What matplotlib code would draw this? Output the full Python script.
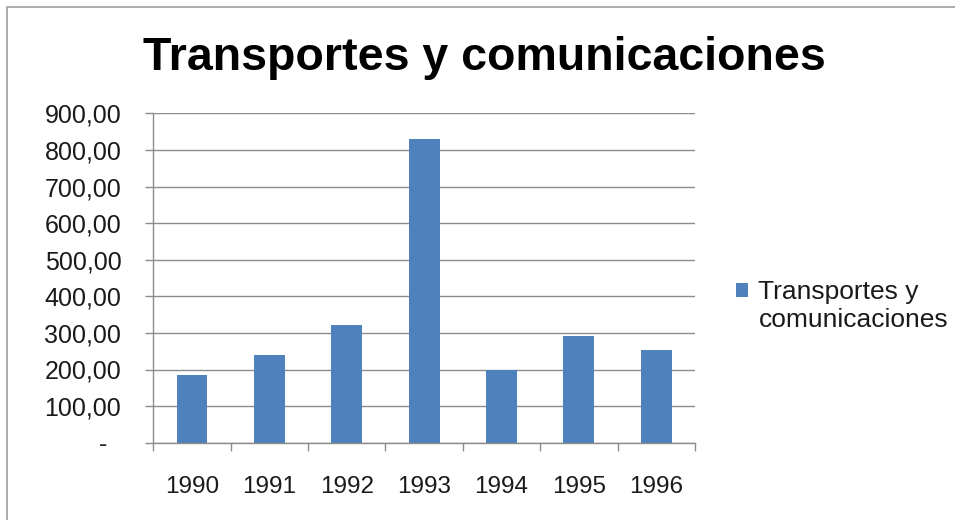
import matplotlib
matplotlib.use("Agg")
import matplotlib.pyplot as plt
from matplotlib.patches import Rectangle
from matplotlib.ticker import FuncFormatter, FixedLocator
import numpy as np

plt.rcParams['font.family'] = ['Liberation Sans', 'DejaVu Sans']

years = ["1990", "1991", "1992", "1993", "1994", "1995", "1996"]
values = [184, 240, 321, 829, 200, 291, 252]
series_label = "Transportes y\ncomunicaciones"
title = "Transportes y comunicaciones"
y_ticks = [0, 100, 200, 300, 400, 500, 600, 700, 800, 900]

fig = plt.figure(figsize=(9.55, 5.2), dpi=100)
fig.patch.set_facecolor("white")

# chart border
fig.patches.append(Rectangle((7 / 955, -0.1), 1.2, 1.1 - 7 / 520,
                             transform=fig.transFigure, fill=False,
                             edgecolor="#a6a6a6", linewidth=1.3))

ax = fig.add_axes([153.3 / 955, 1 - 442.7 / 520, (695 - 153.3) / 955, (442.7 - 113.3) / 520])

x = np.arange(len(years))
ax.bar(x, values, width=0.4, color="#4f81bd", zorder=3, label=series_label)

ax.set_xlim(-0.5, len(years) - 0.5)
ax.set_ylim(0, 900)

ax.yaxis.set_major_locator(FixedLocator(y_ticks))


def fmt(v, pos):
    if v == 0:
        return "-  "
    s = f"{v:,.2f}"
    return s.replace(",", "X").replace(".", ",").replace("X", ".")


ax.yaxis.set_major_formatter(FuncFormatter(fmt))
ax.grid(axis="y", color="#8c8c8c", linewidth=1.0, zorder=0)

ax.set_xticks(x)
ax.set_xticklabels(years)
ax.set_xticks(np.arange(-0.5, len(years)), minor=True)
ax.tick_params(axis="x", which="major", length=0, pad=24, labelsize=17.5, labelcolor="#1a1a1a")
ax.tick_params(axis="x", which="minor", length=6, width=1.0, color="#8c8c8c", direction="out")
ax.tick_params(axis="y", which="major", length=6, width=1.0, color="#8c8c8c", direction="out",
               pad=17, labelsize=18, labelcolor="#1a1a1a")

for side in ["top", "right"]:
    ax.spines[side].set_visible(False)
for side in ["left", "bottom"]:
    ax.spines[side].set_color("#8c8c8c")
    ax.spines[side].set_linewidth(1.0)
ax.spines["left"].set_zorder(4)
ax.spines["bottom"].set_zorder(4)

fig.text(484 / 955, 1 - 70 / 520, title, ha="center", va="baseline",
         fontsize=33.5, fontweight="bold", color="black")

leg_fs = 19
leg = ax.legend(loc="upper left", bbox_to_anchor=(736 / 955, 1 - 280 / 520),
                bbox_transform=fig.transFigure, frameon=False, fontsize=leg_fs,
                handlelength=0.45, handleheight=0.45, handletextpad=0.4,
                borderpad=0, borderaxespad=0, labelspacing=0)
for t in leg.get_texts():
    t.set_color("#1a1a1a")
    t.set_linespacing(1.2)
for h in leg.legend_handles:
    h.set_y(h.get_y() + 0.6 * leg_fs)

fig.savefig("out.png", dpi=100, facecolor="white")
